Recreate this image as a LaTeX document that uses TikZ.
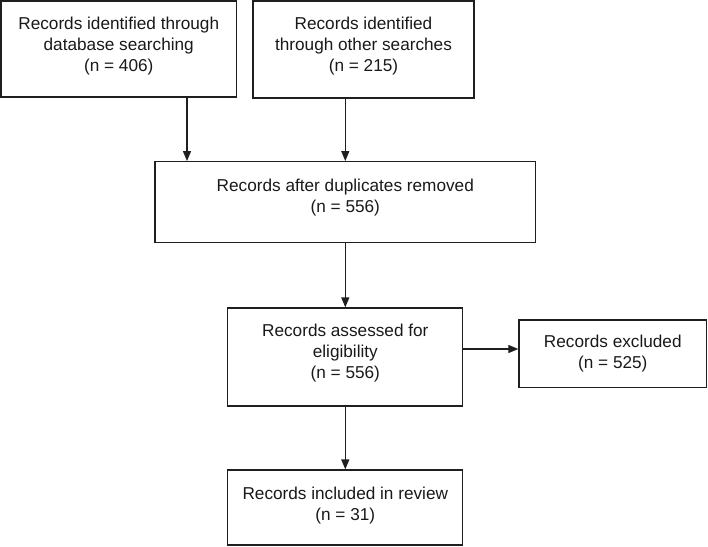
\documentclass[tikz,border=0pt]{standalone}
\usepackage{fontspec}
\setmainfont{Liberation Sans}
\usetikzlibrary{arrows.meta}
\newcommand{\lowgap}[1]{\rule[-#1]{0pt}{#1}}
\begin{document}
\begin{tikzpicture}[x=1pt,y=-1pt]
    \tikzset{box/.style = {draw=black!88,line width=1.3pt,align=center,inner sep=0pt,text=black!90,font=\fontsize{17.2}{21}\selectfont}}
    \tikzset{edge/.style = {-{Triangle[width=8pt,length=10pt]},line width=1.3pt,draw=black!88}}
    \useasboundingbox (0,0) rectangle (708,546);
    \node[box,minimum width=235.5pt,minimum height=96pt] (db) at (118.75,49) {Records identified through\\database searching\\(n = 406)\lowgap{8.6pt}};
    \node[box,minimum width=221pt,minimum height=97pt] (other) at (363.5,49.5) {Records identified\\through other searches\\(n = 215)\lowgap{11.2pt}};
    \node[box,minimum width=380.7pt,minimum height=81pt] (dup) at (345.3,202.2) {Records after duplicates removed\\(n = 556)\lowgap{13.6pt}};
    \node[box,minimum width=235pt,minimum height=98pt] (elig) at (345.3,357) {Records assessed for\\eligibility\\(n = 556)\lowgap{10.8pt}};
    \node[box,minimum width=187.7pt,minimum height=67.7pt] (excl) at (612.8,353.8) {Records excluded\\(n = 525)};
    \node[box,minimum width=235pt,minimum height=75pt] (incl) at (345.3,507.5) {Records included in review\\(n = 31)\lowgap{7pt}};
    \draw[edge] ([xshift=68.25pt]db.south) -- ([xshift=68.25pt]db.south |- dup.north);
    \draw[edge] (other.south -| dup.north) -- (dup.north);
    \draw[edge] (dup) -- (elig);
    \draw[edge] ([yshift=8pt]elig.east) -- ([yshift=8pt]elig.east -| excl.west);
    \draw[edge] (elig) -- (incl);
\end{tikzpicture}
\end{document}
